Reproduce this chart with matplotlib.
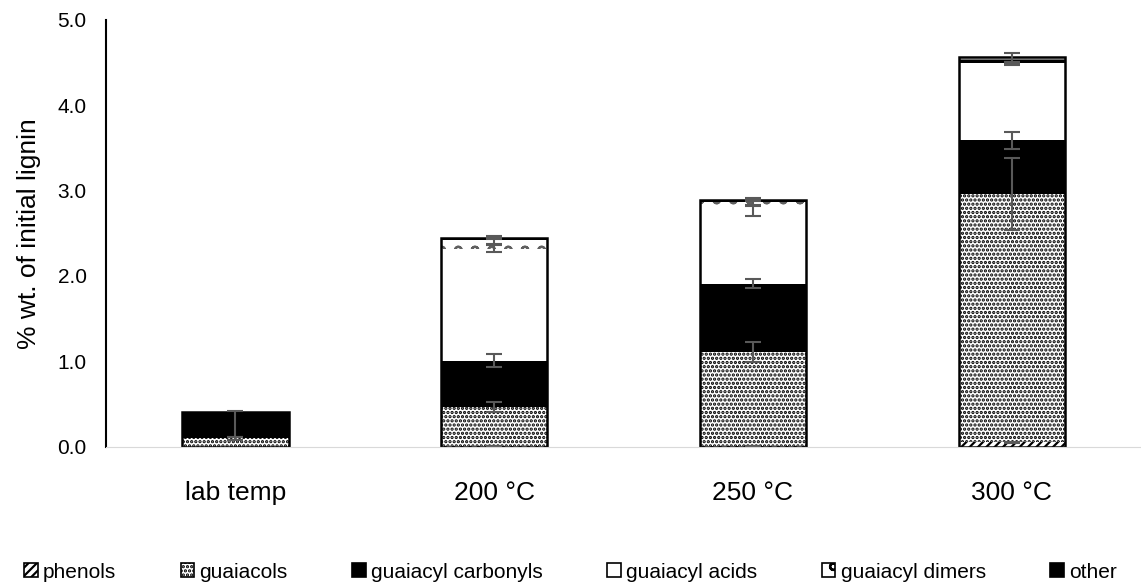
import numpy as np
import matplotlib
matplotlib.use("Agg")
from matplotlib import pyplot as plt
from matplotlib.patches import Patch

plt.rcParams['font.family'] = ['Liberation Sans', 'DejaVu Sans']
plt.rcParams['hatch.linewidth'] = 1.6

categories = ['lab temp', '200 °C', '250 °C', '300 °C']
series = ['phenols', 'guaiacols', 'guaiacyl carbonyls', 'guaiacyl acids',
          'guaiacyl dimers', 'other']

phenols = [0.0, 0.01, 0.01, 0.05]
guaiacols = [0.10, 0.46, 1.10, 2.91]
carbonyls = [0.31, 0.54, 0.80, 0.63]
acids = [0.0, 1.31, 0.85, 0.90]
dimers = [0.0, 0.10, 0.11, 0.01]
other = [0.0, 0.02, 0.02, 0.06]

phenols_err = [0.0, 0.0, 0.0, 0.01]
guaiacols_err = [0.02, 0.06, 0.12, 0.42]
carbonyls_err = [[0.29, 0.08, 0.05, 0.10], [0.01, 0.08, 0.05, 0.10]]
acids_err = [0.0, 0.04, 0.06, 0.02]
dimers_err = [0.0, 0.05, 0.04, 0.01]
other_err = [0.0, 0.01, 0.01, 0.05]

values = [phenols, guaiacols, carbonyls, acids, dimers, other]
errors = [phenols_err, guaiacols_err, carbonyls_err, acids_err, dimers_err, other_err]
styles = [
    dict(facecolor='white', edgecolor='black', hatch='////'),
    dict(facecolor='white', edgecolor='black', hatch='....'),
    dict(facecolor='black', edgecolor='black', hatch=None),
    dict(facecolor='white', edgecolor='black', hatch=None),
    dict(facecolor='white', edgecolor='#606060', hatch='o'),
    dict(facecolor='black', edgecolor='white', hatch='-'),
]

fig = plt.figure(figsize=(11.41, 5.84), dpi=100)
ax = fig.add_axes([0.093, 0.235, 0.907, 0.731])

x = np.arange(len(categories))
width = 0.41
bottom = np.zeros(len(categories))
for name, vals, st in zip(series, values, styles):
    vals = np.array(vals)
    ax.bar(x, vals, width, bottom=bottom, linewidth=0, **st)
    bottom = bottom + vals

# outline of each stacked bar
ax.bar(x, bottom, width, fill=False, edgecolor='black', linewidth=1.8)

# error bars at the top of every segment
cum = np.zeros(len(categories))
for vals, err in zip(values, errors):
    cum = cum + np.array(vals)
    err = np.array(err)
    mask = np.array(vals) > 0
    e = err[:, mask] if err.ndim == 2 else err[mask]
    ax.errorbar(x[mask], cum[mask], yerr=e, fmt='none', ecolor='#595959',
                elinewidth=1.5, capsize=6, capthick=1.5)

ax.set_xlim(-0.5, 3.5)
ax.set_ylim(0, 5.0)
ticks = np.arange(0, 5.01, 1.0)
ax.set_yticks(ticks)
ax.set_yticklabels([f'{v:.1f}' for v in ticks], fontsize=15)
ax.set_xticks(x)
ax.set_xticklabels(categories, fontsize=19)
ax.tick_params(axis='both', length=0)
ax.tick_params(axis='x', pad=25)
ax.tick_params(axis='y', pad=14)
ax.set_ylabel('% wt. of initial lignin', fontsize=19, labelpad=12)

for s in ['top', 'right']:
    ax.spines[s].set_visible(False)
ax.spines['left'].set_color('black')
ax.spines['left'].set_linewidth(1.5)
ax.spines['bottom'].set_color('#d9d9d9')

handles = []
for st in styles:
    handles.append(Patch(facecolor=st['facecolor'], edgecolor='black',
                         hatch=st['hatch'], linewidth=1.2))

fig.legend(handles=handles, labels=series, loc='lower center', ncol=6,
           frameon=False, fontsize=15, handlelength=0.65, handleheight=0.65,
           handletextpad=0.25, columnspacing=3.1, bbox_to_anchor=(0.5, -0.028))

fig.savefig('out.png', dpi=100)
